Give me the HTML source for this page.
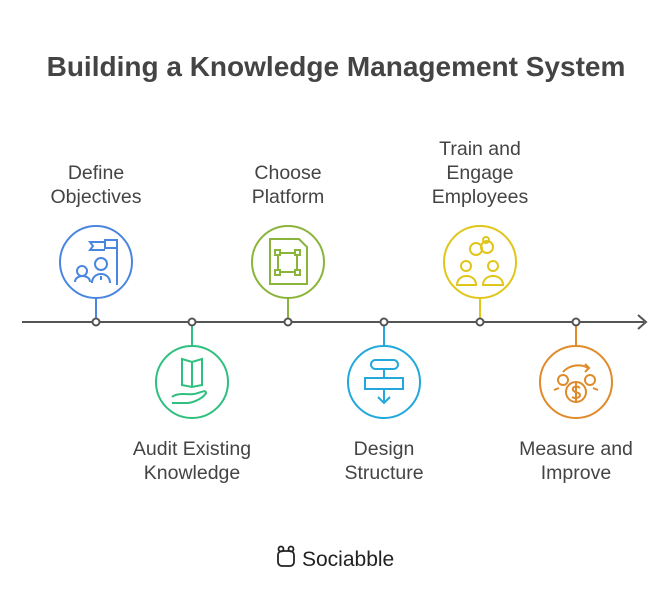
<!DOCTYPE html>
<html><head><meta charset="utf-8"><style>
body{margin:0;background:#fff;width:672px;height:607px;overflow:hidden}
</style></head><body>
<svg width="672" height="607" viewBox="0 0 672 607" xmlns="http://www.w3.org/2000/svg" font-family="Liberation Sans, sans-serif">
<text x="336" y="76" text-anchor="middle" font-size="28" font-weight="bold" fill="#444">Building a Knowledge Management System</text>
<line x1="22" y1="322" x2="644" y2="322" stroke="#555" stroke-width="2"/>
<polyline points="638,315 646,322 638,329" fill="none" stroke="#555" stroke-width="2"/>
<g stroke-width="2" fill="none">
<line x1="96" y1="298" x2="96" y2="322" stroke="#4a86e0"/>
<circle cx="96" cy="262" r="36" stroke="#4a86e0"/>
<line x1="192" y1="322" x2="192" y2="346" stroke="#2fbf7f"/>
<circle cx="192" cy="382" r="36" stroke="#2fbf7f"/>
<line x1="288" y1="298" x2="288" y2="322" stroke="#8ab53a"/>
<circle cx="288" cy="262" r="36" stroke="#8ab53a"/>
<line x1="384" y1="322" x2="384" y2="346" stroke="#22a8dc"/>
<circle cx="384" cy="382" r="36" stroke="#22a8dc"/>
<line x1="480" y1="298" x2="480" y2="322" stroke="#e0c61a"/>
<circle cx="480" cy="262" r="36" stroke="#e0c61a"/>
<line x1="576" y1="322" x2="576" y2="346" stroke="#e08a2a"/>
<circle cx="576" cy="382" r="36" stroke="#e08a2a"/>
</g>
<g fill="#fff" stroke="#555" stroke-width="2">
<circle cx="96" cy="322" r="3.5"/><circle cx="192" cy="322" r="3.5"/><circle cx="288" cy="322" r="3.5"/>
<circle cx="384" cy="322" r="3.5"/><circle cx="480" cy="322" r="3.5"/><circle cx="576" cy="322" r="3.5"/>
</g>
<g fill="none" stroke-width="2">
<g stroke="#4a86e0"><path d="M117 239V285M117 240H105V248H117M105 242H90L93 246L90 250H105"/><circle cx="101" cy="264" r="6"/><path d="M92 283C92 271 110 271 110 283M101 276V280"/><circle cx="82" cy="271" r="5"/><path d="M75 282C75 274 90 274 90 282"/></g>
<g stroke="#2fbf7f"><path d="M182 359L192 362L202 359V385L192 387L182 385ZM192 362V387"/><path d="M172 397C178 392 188 395 194 394C200 393 206 389 206 393C204 397 196 402 188 403H172"/></g>
<g stroke="#8ab53a"><path d="M270 239H299L307 247V284H270Z"/><rect x="278" y="253" width="19" height="19"/><rect x="275" y="250" width="5" height="5" fill="#fff"/><rect x="295" y="250" width="5" height="5" fill="#fff"/><rect x="275" y="270" width="5" height="5" fill="#fff"/><rect x="295" y="270" width="5" height="5" fill="#fff"/></g>
<g stroke="#22a8dc"><rect x="371" y="360" width="27" height="9" rx="4.5"/><rect x="365" y="378" width="38" height="11"/><path d="M384 369V378M384 389V403M378 397L384 403L390 397"/></g>
<g stroke="#e0c61a"><circle cx="476" cy="249" r="6"/><circle cx="487" cy="247" r="6"/><circle cx="486" cy="240" r="3"/><circle cx="466" cy="266" r="5"/><path d="M457 285C457 273 476 273 476 285Z"/><circle cx="493" cy="266" r="5"/><path d="M483 285C483 273 503 273 503 285Z"/></g>
<g stroke="#e08a2a"><path d="M563 372C570 364 582 364 588 368M585 364L589 368L585 372"/><circle cx="563" cy="380" r="5"/><circle cx="590" cy="380" r="5"/><circle cx="576" cy="392" r="10"/><path d="M580 388C576 385 572 387 573 390C574 393 580 392 580 395C580 398 575 399 572 397M576 383V401"/><path d="M554 390L559 388M598 390L593 388"/></g>
</g>
<g font-size="19.5" fill="#444" text-anchor="middle">
<text x="96" y="179">Define</text><text x="96" y="203">Objectives</text>
<text x="288" y="179">Choose</text><text x="288" y="203">Platform</text>
<text x="480" y="155">Train and</text><text x="480" y="179">Engage</text><text x="480" y="203">Employees</text>
<text x="192" y="455">Audit Existing</text><text x="192" y="479">Knowledge</text>
<text x="384" y="455">Design</text><text x="384" y="479">Structure</text>
<text x="576" y="455">Measure and</text><text x="576" y="479">Improve</text>
</g>
<g fill="none" stroke="#222" stroke-width="1.8"><rect x="278" y="551" width="16" height="15" rx="4"/><circle cx="281" cy="549" r="2.5"/><circle cx="291" cy="549" r="2.5"/></g>
<text x="302" y="566" font-size="21" fill="#222">Sociabble</text>
</svg>
</body></html>
